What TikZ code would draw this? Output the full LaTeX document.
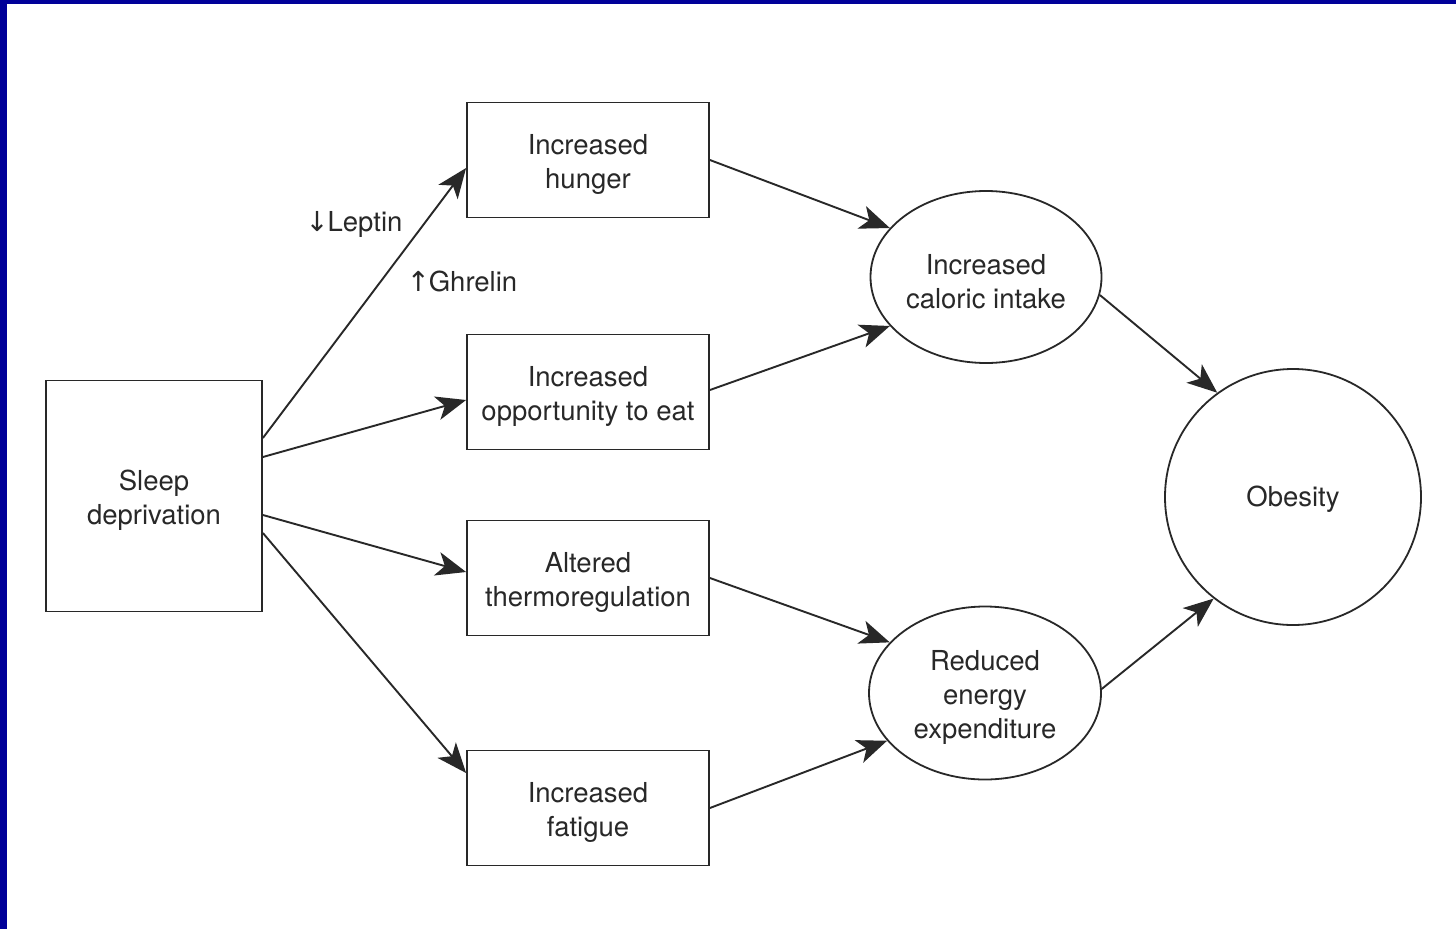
\documentclass[tikz,border=0pt]{standalone}
\usepackage{fontspec}
\setmainfont{TeX Gyre Heros}
\newfontfamily\arrowfont{DejaVu Sans}
\usetikzlibrary{shapes.geometric,arrows.meta}
\definecolor{frameblue}{RGB}{0,0,153}
\definecolor{ink}{RGB}{40,40,40}
\newcommand{\lowstrut}{\rule{0pt}{29pt}}
\begin{document}
\begin{tikzpicture}[x=1pt,y=-1pt,
  every node/.style={font=\fontsize{27.5}{34}\selectfont, text=ink, align=center},
  boxnode/.style={draw=ink, line width=1.8pt, rectangle, minimum width=242pt, minimum height=115pt, inner sep=0pt},
  ovalnode/.style={draw=ink, line width=1.8pt, ellipse, minimum width=231pt, minimum height=172pt, inner sep=0pt},
  roundnode/.style={draw=ink, line width=1.8pt, circle, minimum size=256pt, inner sep=0pt},
  conn/.style={draw=ink, line width=1.9pt, -{Stealth[length=30pt,width=24pt,inset=8pt]}}
]
\useasboundingbox (0,0) rectangle (1456,929);
\fill[white] (0,0) rectangle (1456,929);
\fill[frameblue] (0,0) rectangle (7,929);
\fill[frameblue] (0,0) rectangle (1456,4);

\node[boxnode, minimum width=216pt, minimum height=231pt] (sleep) at (154,496) {\lowstrut Sleep\\deprivation};
\node[boxnode] (hunger) at (588,160) {\lowstrut Increased\\hunger};
\node[boxnode] (opp) at (588,392) {\lowstrut Increased\\opportunity to eat};
\node[boxnode] (thermo) at (588,578) {\lowstrut Altered\\thermoregulation};
\node[boxnode] (fatigue) at (588,808) {\lowstrut Increased\\fatigue};
\node[ovalnode] (caloric) at (986,277) {\lowstrut Increased\\caloric intake};
\node[ovalnode, minimum width=232pt, minimum height=173pt] (reduced) at (985,693) {\lowstrut Reduced\\energy\\expenditure};
\node[roundnode] (obesity) at (1293,497) {\rule{0pt}{24pt}Obesity};

\node (leptin) at (355,224) {{\arrowfont\kern-2pt↓}\kern-1pt Leptin};
\node (ghrelin) at (462,281) {{\arrowfont ↑}\kern-1pt Ghrelin};

\draw[conn] ([yshift=58pt]sleep.east) -- ([yshift=-8pt]hunger.west);
\draw[conn] ([yshift=39pt]sleep.east) -- ([yshift=-8pt]opp.west);
\draw[conn] ([yshift=-19pt]sleep.east) -- ([yshift=6pt]thermo.west);
\draw[conn] ([yshift=-37pt]sleep.east) -- ([yshift=35pt]fatigue.west);

\draw[conn] (hunger.east) -- (caloric.153);
\draw[conn] ([yshift=2pt]opp.east) -- (caloric.207);
\draw[conn] (thermo.east) -- (reduced.152);
\draw[conn] (fatigue.east) -- (reduced.206);

\draw[conn] (caloric.351) -- (obesity.126);
\draw[conn] (reduced.2) -- (obesity.232);
\end{tikzpicture}
\end{document}
